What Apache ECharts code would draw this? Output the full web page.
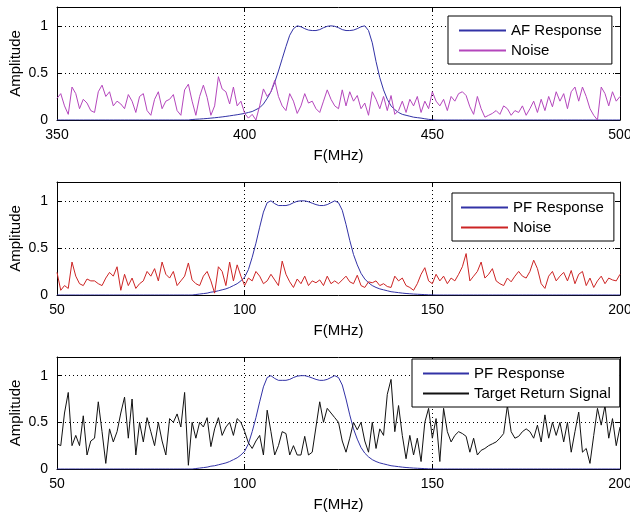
<!DOCTYPE html>
<html>
<head>
<meta charset="utf-8">
<script src="https://cdn.jsdelivr.net/npm/echarts@6/dist/echarts.min.js"></script>
<style>
html,body{margin:0;padding:0;background:#fff;}
#chart{width:630px;height:515px;}
</style>
</head>
<body>
<div id="chart"></div>
<script>
// ---- Data ----
const afFreqStart = 350;   // MHz, top panel
const pfFreqStart = 50;    // MHz, middle & bottom panels
const freqStep = 1;        // MHz per sample

const afTicks = [350, 400, 450, 500];
const pfTicks = [50, 100, 150, 200];

const afResponse = [
  0,0,0,0,0,0,0,0,0,0,
  0,0,0,0,0,0,0,0,0,0,
  0,0,0,0,0,0,0,0,0,0,
  0,0,0,0,0,0,
  0.005,0.008,0.01,0.013,0.016,0.02,0.024,0.028,0.033,0.038,0.044,0.05,0.056,0.063,
  0.07,0.08,0.09,0.11,0.13,0.17,0.23,0.30,0.40,0.52,
  0.65,0.78,0.90,0.97,1.0,0.99,0.97,0.955,0.95,0.95,
  0.96,0.98,0.995,1.0,0.995,0.98,0.96,0.95,0.95,0.955,
  0.97,0.99,1.0,0.95,0.82,0.62,0.45,0.32,0.22,0.15,
  0.11,0.08,0.06,0.05,0.04,0.03,0.025,0.02,0.013,0.007,
  0.003,
  0,0,0,0,0,0,0,0,0,0,
  0,0,0,0,0,0,0,0,0,0,
  0,0,0,0,0,0,0,0,0,0,
  0,0,0,0,0,0,0,0,0,0,
  0,0,0,0,0,0,0,0,0,0
];

const noiseAF = [
  0.23,0.28,0.15,0.06,0.35,0.28,0.12,0.22,0.18,0.10,
  0.08,0.30,0.37,0.25,0.30,0.15,0.20,0.17,0.12,0.27,
  0.20,0.08,0.25,0.28,0.10,0.05,0.22,0.30,0.12,0.20,
  0.22,0.27,0.10,0.05,0.32,0.38,0.20,0.05,0.25,0.37,
  0.24,0.05,0.15,0.46,0.33,0.30,0.17,0.35,0.15,0.20,
  0.07,0.02,0.06,0.00,0.15,0.33,0.25,0.30,0.42,0.25,
  0.15,0.10,0.28,0.20,0.07,0.15,0.28,0.18,0.20,0.12,
  0.08,0.20,0.32,0.22,0.15,0.12,0.32,0.15,0.30,0.20,
  0.26,0.12,0.18,0.05,0.30,0.22,0.12,0.25,0.10,0.26,
  0.06,0.10,0.20,0.08,0.22,0.15,0.25,0.08,0.20,0.12,
  0.30,0.20,0.15,0.22,0.10,0.25,0.20,0.28,0.30,0.26,
  0.14,0.06,0.25,0.12,0.03,0.05,0.07,0.10,0.06,0.15,
  0.12,0.05,0.10,0.08,0.15,0.05,0.12,0.20,0.08,0.22,
  0.10,0.25,0.14,0.30,0.20,0.28,0.12,0.30,0.35,0.20,
  0.35,0.25,0.12,0.05,0.00,0.35,0.28,0.15,0.30,0.20,
  0.25
];

const pfResponse = [
  0,0,0,0,0,0,0,0,0,0,
  0,0,0,0,0,0,0,0,0,0,
  0,0,0,0,0,0,0,0,0,0,
  0,0,0,0,0,0,0,
  0.005,0.01,0.015,0.02,0.03,0.035,0.045,0.055,0.065,0.08,0.10,0.12,0.15,
  0.19,0.27,0.40,0.55,0.72,0.88,0.98,1.0,0.97,0.95,
  0.95,0.95,0.96,0.98,0.995,1.0,1.0,0.99,0.975,0.96,
  0.95,0.95,0.96,0.98,1.0,0.98,0.9,0.75,0.58,0.43,
  0.32,0.23,0.17,0.13,0.10,0.08,0.065,0.055,0.045,0.035,
  0.03,0.025,0.02,0.016,0.013,0.01,0.008,0.006,0.004,0.002,
  0.001,
  0,0,0,0,0,0,0,0,0,0,
  0,0,0,0,0,0,0,0,0,0,
  0,0,0,0,0,0,0,0,0,0,
  0,0,0,0,0,0,0,0,0,0,
  0,0,0,0,0,0,0,0,0,0
];

const noisePF = [
  0.24,0.05,0.10,0.07,0.35,0.20,0.12,0.10,0.17,0.15,
  0.15,0.12,0.10,0.18,0.24,0.20,0.30,0.05,0.22,0.10,
  0.18,0.07,0.12,0.15,0.25,0.20,0.28,0.15,0.35,0.22,
  0.18,0.25,0.10,0.15,0.20,0.34,0.16,0.12,0.10,0.20,
  0.25,0.15,0.02,0.30,0.25,0.10,0.35,0.15,0.32,0.20,
  0.10,0.18,0.15,0.25,0.20,0.12,0.15,0.22,0.16,0.10,
  0.36,0.22,0.14,0.08,0.17,0.12,0.20,0.10,0.15,0.13,
  0.16,0.10,0.20,0.12,0.15,0.12,0.16,0.20,0.14,0.12,
  0.21,0.10,0.08,0.14,0.13,0.15,0.10,0.12,0.09,0.08,
  0.20,0.15,0.18,0.10,0.08,0.05,0.12,0.22,0.29,0.15,
  0.12,0.22,0.15,0.20,0.12,0.18,0.15,0.22,0.30,0.44,
  0.15,0.20,0.25,0.35,0.18,0.22,0.28,0.15,0.12,0.10,
  0.18,0.14,0.20,0.25,0.20,0.18,0.25,0.37,0.28,0.12,
  0.07,0.20,0.25,0.15,0.20,0.24,0.15,0.26,0.12,0.22,
  0.25,0.10,0.18,0.08,0.15,0.20,0.12,0.18,0.16,0.15,
  0.22
];

const targetReturn = [
  0.27,0.25,0.60,0.82,0.25,0.36,0.25,0.57,0.15,0.30,
  0.33,0.72,0.40,0.06,0.43,0.29,0.40,0.60,0.77,0.33,
  0.75,0.15,0.50,0.29,0.55,0.40,0.25,0.50,0.30,0.15,
  0.54,0.50,0.59,0.45,0.82,0.04,0.50,0.33,0.50,0.45,
  0.55,0.24,0.43,0.55,0.36,0.45,0.50,0.36,0.54,0.50,
  0.40,0.28,0.22,0.30,0.36,0.15,0.63,0.40,0.15,0.25,
  0.40,0.38,0.15,0.25,0.15,0.15,0.35,0.15,0.18,0.45,
  0.72,0.50,0.65,0.60,0.55,0.50,0.30,0.18,0.33,0.50,
  0.42,0.50,0.30,0.18,0.50,0.22,0.43,0.36,0.80,0.96,
  0.40,0.68,0.36,0.11,0.36,0.15,0.33,0.08,0.50,0.65,
  0.33,0.54,0.08,0.65,0.40,0.29,0.36,0.40,0.38,0.35,
  0.18,0.33,0.15,0.20,0.22,0.25,0.27,0.29,0.33,0.38,
  0.68,0.40,0.33,0.35,0.40,0.43,0.40,0.33,0.47,0.29,
  0.58,0.33,0.50,0.36,0.50,0.29,0.50,0.18,0.40,0.61,
  0.18,0.22,0.06,0.36,0.65,0.47,0.68,0.33,0.54,0.25,
  0.45
];

// ---- Chart ----
const FONT = '"Liberation Sans", Arial, sans-serif';
const C_BLUE = '#3232a6', C_MAG = '#b446bc', C_RED = '#cc2424', C_BLACK = '#111111';

function toXY(arr, start) { return arr.map((v, i) => [start + i * freqStep, v]); }

const grids = [
  {left: 57, top: 7, width: 563, height: 113, outerBoundsMode: 'none', containLabel: false},
  {left: 57, top: 182, width: 563, height: 113, outerBoundsMode: 'none', containLabel: false},
  {left: 57, top: 357, width: 563, height: 112, outerBoundsMode: 'none', containLabel: false}
];
const ranges = [afTicks, pfTicks, pfTicks];

const dotted = {show: true, lineStyle: {color: '#000', width: 1, type: [1, 3]}};
const xAxes = [], yAxes = [];
ranges.forEach((t, i) => {
  xAxes.push({
    gridIndex: i, type: 'value', min: t[0], max: t[t.length - 1], interval: t[1] - t[0],
    position: 'bottom',
    axisLine: {show: true, onZero: false, lineStyle: {color: '#000', width: 1}},
    axisTick: {show: true, inside: true, length: 5, lineStyle: {color: '#000'}},
    axisLabel: {color: '#000', fontSize: 14, fontFamily: FONT, margin: 8},
    splitLine: dotted,
    name: 'F(MHz)', nameLocation: 'middle', nameGap: 28,
    nameTextStyle: {color: '#000', fontSize: 15, fontFamily: FONT}
  });
  yAxes.push({
    gridIndex: i, type: 'value', min: 0, max: 1.2, interval: 0.5,
    position: 'left',
    axisLine: {show: true, onZero: false, lineStyle: {color: '#000', width: 1}},
    axisTick: {show: true, inside: true, length: 5, lineStyle: {color: '#000'}},
    axisLabel: {color: '#000', fontSize: 14, fontFamily: FONT, margin: 9, showMaxLabel: false},
    splitLine: dotted,
    name: 'Amplitude', nameLocation: 'middle', nameGap: 34, nameRotate: 90,
    nameMoveOverlap: false,
    nameTextStyle: {color: '#000', fontSize: 15, fontFamily: FONT}
  });
});
ranges.forEach((t, i) => {
  xAxes.push({
    gridIndex: i, type: 'value', min: t[0], max: t[t.length - 1], interval: t[1] - t[0],
    position: 'top',
    axisLine: {show: true, onZero: false, lineStyle: {color: '#000', width: 1}},
    axisTick: {show: true, inside: true, length: 5, lineStyle: {color: '#000'}},
    axisLabel: {show: false}, splitLine: {show: false}
  });
  yAxes.push({
    gridIndex: i, type: 'value', min: 0, max: 1.2, interval: 0.5,
    position: 'right',
    axisLine: {show: true, onZero: false, lineStyle: {color: '#000', width: 1}},
    axisTick: {show: true, inside: true, length: 5, lineStyle: {color: '#000'}},
    axisLabel: {show: false}, splitLine: {show: false}
  });
});

function lineSeries(name, data, idx, color) {
  return {
    name: name, type: 'line', xAxisIndex: idx, yAxisIndex: idx, data: data,
    symbol: 'none', showSymbol: false, smooth: false, color: color,
    lineStyle: {color: color, width: 1}, itemStyle: {color: color},
    emphasis: {disabled: true}
  };
}

const series = [
  lineSeries('AF Response', toXY(afResponse, afFreqStart), 0, C_BLUE),
  lineSeries('Noise', toXY(noiseAF, afFreqStart), 0, C_MAG),
  lineSeries('PF Response', toXY(pfResponse, pfFreqStart), 1, C_BLUE),
  lineSeries('Noise ', toXY(noisePF, pfFreqStart), 1, C_RED),
  lineSeries('PF Response', toXY(pfResponse, pfFreqStart), 2, C_BLUE),
  lineSeries('Target Return Signal', toXY(targetReturn, pfFreqStart), 2, C_BLACK)
];

// Legends use the series' own legend icon (a line in the series colour);
// itemHeight 1 keeps the line thin and shrinks the marker dot to nothing.
function legendBox(names, left, top, padding, lineW) {
  return {
    orient: 'vertical', left: left, top: top, padding: padding,
    backgroundColor: '#fff', borderColor: '#000', borderWidth: 1, borderRadius: 0,
    itemWidth: lineW, itemHeight: 1, itemGap: 5, selectedMode: false,
    formatter: name => name.trim(),
    textStyle: {color: '#000', fontSize: 15, fontFamily: FONT},
    data: names
  };
}

const option = {
  animation: false,
  backgroundColor: '#fff',
  grid: grids,
  xAxis: xAxes,
  yAxis: yAxes,
  legend: [
    legendBox(['AF Response', 'Noise'], 448, 16, [7, 10, 6, 10], 47),
    legendBox(['PF Response', 'Noise '], 452, 193, [7, 10, 6, 8], 47),
    legendBox(['PF Response', 'Target Return Signal'], 412, 359, [7, 9, 6, 10], 46)
  ],
  series: series
};

const chart = echarts.init(document.getElementById('chart'), null, {renderer: 'canvas'});
chart.setOption(option);
</script>
</body>
</html>
